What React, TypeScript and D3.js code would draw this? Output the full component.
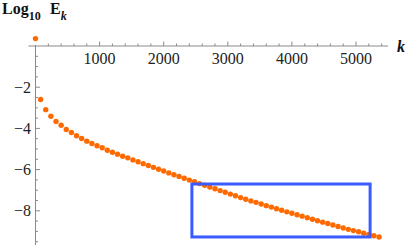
import * as d3 from "d3";

// log10 of E_k (k = 0, 80, 160, ...)
const kValues = [
  0, 80, 160, 240, 320, 400, 480, 560, 640, 720, 800, 880, 960, 1040, 1120,
  1200, 1280, 1360, 1440, 1520, 1600, 1680, 1760, 1840, 1920, 2000, 2080,
  2160, 2240, 2320, 2400, 2480, 2560, 2640, 2720, 2800, 2880, 2960, 3040,
  3120, 3200, 3280, 3360, 3440, 3520, 3600, 3680, 3760, 3840, 3920, 4000,
  4080, 4160, 4240, 4320, 4400, 4480, 4560, 4640, 4720, 4800, 4880, 4960,
  5040, 5120, 5200, 5280, 5360,
];
const logE = [
  0.36, -2.6, -3.09, -3.41, -3.66, -3.85, -4.05, -4.2, -4.36, -4.49, -4.62,
  -4.73, -4.84, -4.94, -5.06, -5.16, -5.25, -5.35, -5.43, -5.53, -5.62, -5.71,
  -5.8, -5.89, -5.98, -6.07, -6.16, -6.25, -6.33, -6.42, -6.51, -6.59, -6.68,
  -6.76, -6.85, -6.93, -7.02, -7.1, -7.19, -7.27, -7.36, -7.44, -7.52, -7.59,
  -7.67, -7.75, -7.82, -7.9, -7.97, -8.05, -8.12, -8.19, -8.26, -8.34, -8.41,
  -8.48, -8.55, -8.62, -8.69, -8.76, -8.83, -8.9, -8.96, -9.02, -9.09, -9.15,
  -9.21, -9.27,
];

const xMajor = [1000, 2000, 3000, 4000, 5000];
const yMajor = [-2, -4, -6, -8];
const boxK = [2440, 5220];
const boxLog = [-6.7, -9.27];

const W = 409;
const H = 245;

export default function App() {
  const x = d3.scaleLinear().domain([0, 5000]).range([35.5, 356]);
  const y = d3.scaleLinear().domain([0, -8]).range([46, 210.8]);

  const xMinor = d3.range(200, 5500, 200).filter((k) => k % 1000 !== 0);
  const yMinor = d3.range(-0.5, -9.6, -0.5).filter((v) => v % 2 !== 0);

  const axisColor = "#8a8a8a";
  const serif = "'Liberation Serif', 'DejaVu Serif', serif";

  return (
    <div style={{ position: "absolute", left: 0, top: 0 }}>
      <svg width={W} height={H} style={{ display: "block" }}>
        {/* axes */}
        <line x1={x(-110)} x2={x(5500)} y1={y(0)} y2={y(0)} stroke={axisColor} strokeWidth={1} />
        <line x1={x(0)} x2={x(0)} y1={y(0.05)} y2={y(-9.7)} stroke={axisColor} strokeWidth={1} />

        {xMinor.map((k) => (
          <line key={"xm" + k} x1={x(k)} x2={x(k)} y1={y(0)} y2={y(0) - 2.5} stroke={axisColor} />
        ))}
        {xMajor.map((k) => (
          <g key={"xM" + k}>
            <line x1={x(k)} x2={x(k)} y1={y(0)} y2={y(0) - 4.5} stroke={axisColor} />
            <text x={x(k)} y={y(0) + 18} textAnchor="middle" fontFamily={serif} fontSize={16} fill="#222">
              {k}
            </text>
          </g>
        ))}

        {yMinor.map((v) => (
          <line key={"ym" + v} x1={x(0)} x2={x(0) + 2.5} y1={y(v)} y2={y(v)} stroke={axisColor} />
        ))}
        {yMajor.map((v) => (
          <g key={"yM" + v}>
            <line x1={x(0)} x2={x(0) + 4.5} y1={y(v)} y2={y(v)} stroke={axisColor} />
            <text x={x(0) - 4.5} y={y(v)} dy="0.35em" textAnchor="end" fontFamily={serif} fontSize={16} fill="#222">
              {"\u2212" + Math.abs(v)}
            </text>
          </g>
        ))}

        {/* axis labels */}
        <text x={2} y={14} fontFamily={serif} fontWeight="bold" fontSize={16} fill="#111">
          Log
          <tspan fontSize={12} dy={6}>10</tspan>
          <tspan x={50} dy={-6}>E</tspan>
          <tspan fontSize={12} dy={6} fontStyle="italic">k</tspan>
        </text>
        <text x={397} y={y(0) + 6} fontFamily={serif} fontWeight="bold" fontStyle="italic" fontSize={16} fill="#111">
          k
        </text>

        {/* data points */}
        {kValues.map((k, i) => (
          <circle key={"p" + k} cx={x(k)} cy={y(logE[i])} r={2.7} fill="#ff6a00" />
        ))}

        {/* highlight box */}
        <rect
          x={x(boxK[0])}
          y={y(boxLog[0])}
          width={x(boxK[1]) - x(boxK[0])}
          height={y(boxLog[1]) - y(boxLog[0])}
          fill="none"
          stroke="#3a5bff"
          strokeWidth={3}
        />
      </svg>
    </div>
  );
}
